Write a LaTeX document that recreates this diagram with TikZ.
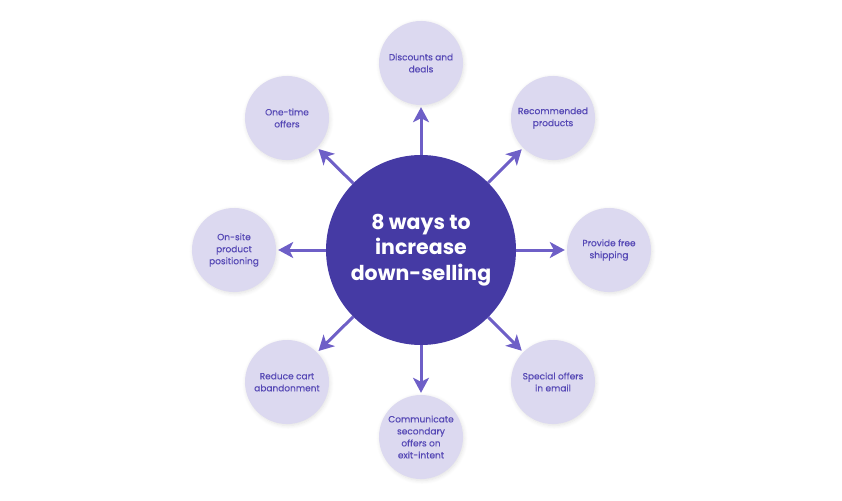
\documentclass[tikz,border=0pt]{standalone}
\usepackage{fontspec}
\setmainfont{Poppins}
\newfontfamily\leaffont[FakeBold=0.4]{Poppins}
\usetikzlibrary{arrows.meta,shadows.blur}
\definecolor{hub}{HTML}{453AA4}
\definecolor{leaf}{HTML}{DCD9F0}
\definecolor{leaftext}{HTML}{5548B5}
\definecolor{arrowc}{HTML}{6E5FC7}
\tikzset{
  hubnode/.style={circle,fill=hub,minimum size=190pt,inner sep=0pt,align=center,text=white,font=\fontsize{20.5}{25.5}\selectfont\bfseries},
  leafnode/.style={circle,fill=leaf,minimum size=84pt,inner sep=0pt,align=center,text=leaftext,font=\fontsize{9}{12}\leaffont,blur shadow={shadow blur steps=6,shadow xshift=1pt,shadow yshift=-1.5pt,shadow opacity=12,shadow blur radius=4pt}},
  conn/.style={draw=arrowc,line width=3pt,-{Stealth[length=15pt,width=16pt,inset=4pt]},shorten >=2pt}
}
\begin{document}
\begin{tikzpicture}[x=1pt,y=-1pt]
\useasboundingbox (0,0) rectangle (842,500);
\node[hubnode] (hub) at (421,250) {8 ways to\\increase\\down-selling};
\node[leafnode] (n) at (421,63) {Discounts and\\deals};
\node[leafnode] (ne) at (553,118) {Recommended\\products};
\node[leafnode] (e) at (609,250) {Provide free\\shipping};
\node[leafnode] (se) at (553,382) {Special offers\\in email};
\node[leafnode] (s) at (421,437) {Communicate\\secondary\\offers on\\exit-intent};
\node[leafnode] (sw) at (287,382) {Reduce cart\\abandonment};
\node[leafnode] (w) at (234,250) {On-site\\product\\positioning};
\node[leafnode] (nw) at (287,118) {One-time\\offers};
\foreach \t in {n,ne,e,se,s,sw,w,nw}{
  \draw[conn] (hub) -- (\t);
}
\end{tikzpicture}
\end{document}
